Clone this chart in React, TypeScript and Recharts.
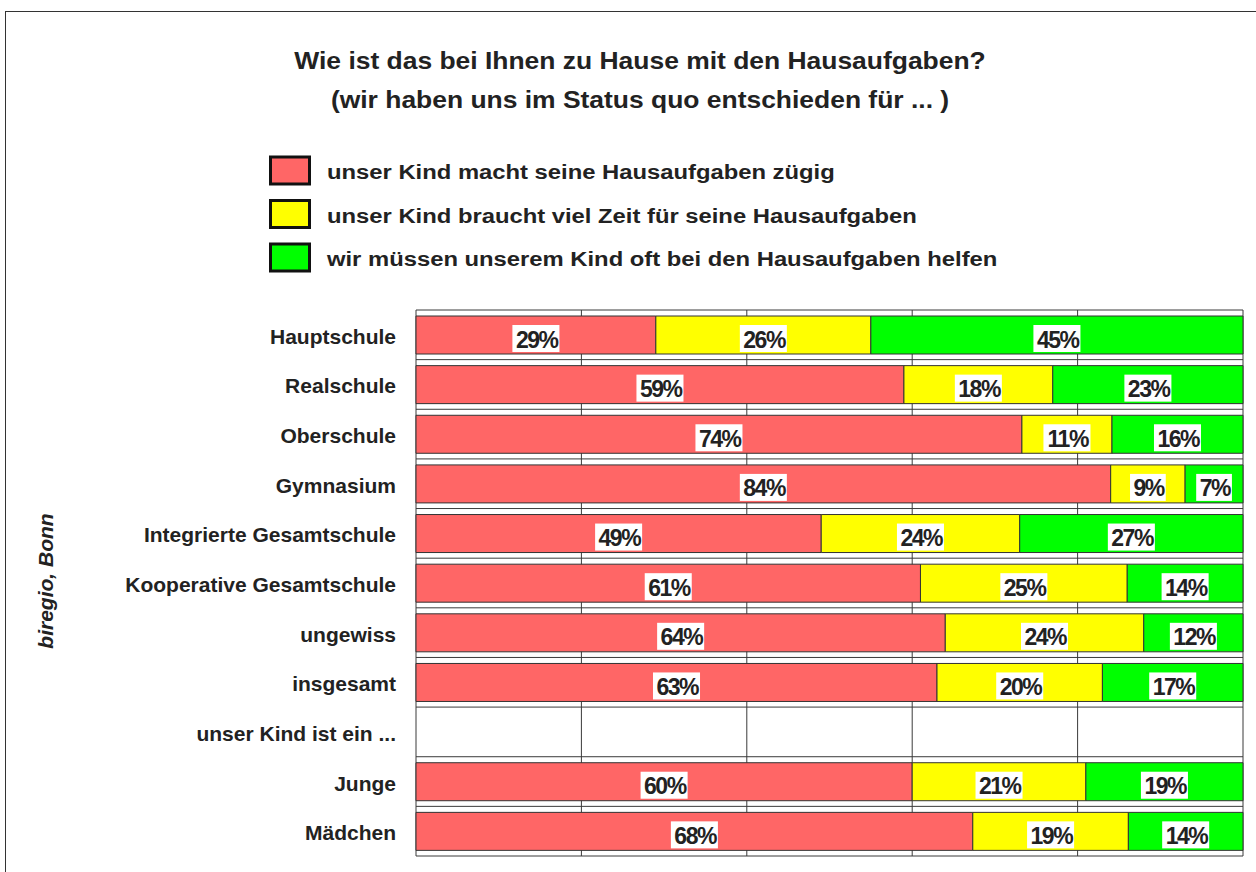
import React from 'react';
import { BarChart, Bar, XAxis, YAxis, CartesianGrid, LabelList } from 'recharts';

// ---- data ----
const categories = [
  'Hauptschule',
  'Realschule',
  'Oberschule',
  'Gymnasium',
  'Integrierte Gesamtschule',
  'Kooperative Gesamtschule',
  'ungewiss',
  'insgesamt',
  'unser Kind ist ein ...',
  'Junge',
  'Mädchen',
];
const zuegig = [29, 59, 74, 84, 49, 61, 64, 63, null, 60, 68];
const vielZeit = [26, 18, 11, 9, 24, 25, 24, 20, null, 21, 19];
const helfen = [45, 23, 16, 7, 27, 14, 12, 17, null, 19, 14];

const seriesKeys = ['zuegig', 'vielZeit', 'helfen'];
const seriesNames = [
  'unser Kind macht seine Hausaufgaben zügig',
  'unser Kind braucht viel Zeit für seine Hausaufgaben',
  'wir müssen unserem Kind oft bei den Hausaufgaben helfen',
];
const seriesColors = ['#FF6666', '#FFFF00', '#00FF00'];
const titleLines = [
  'Wie ist das bei Ihnen zu Hause mit den Hausaufgaben?',
  '(wir haben uns im Status quo entschieden für ... )',
];
const sourceText = 'biregio, Bonn';
const xTicks = [0, 0.2, 0.4, 0.6, 0.8, 1];

const data = categories.map((name, i) => ({
  name,
  zuegig: zuegig[i],
  vielZeit: vielZeit[i],
  helfen: helfen[i],
}));

const FONT = "'Liberation Sans', Arial, Helvetica, sans-serif";

const charW = (c: string) => (c === '%' ? 889 : 556);

const PctLabel = (props: any) => {
  const { x, y, width, height, value } = props;
  if (value == null || !width) return null;
  const txt = `${value}%`;
  const fs = 23;
  const ls = -1.5;
  const tw = txt.split('').reduce((s, c) => s + charW(c), 0) * fs / 1000 + ls * (txt.length - 1);
  const cx = Number(x) + Number(width) / 2;
  const cy = Number(y) + Number(height) / 2;
  return (
    <g>
      <rect x={cx - tw / 2 - 2} y={cy - 10} width={tw + 4} height={27} fill="#ffffff" />
      <text
        x={cx + 0.75}
        y={cy + 12.5}
        textAnchor="middle"
        fontSize={fs}
        fontWeight="bold"
        letterSpacing={ls}
        fill="#222"
        fontFamily={FONT}
      >
        {txt}
      </text>
    </g>
  );
};

const CatTick = (props: any) => {
  const { x, y, payload } = props;
  return (
    <text
      x={x}
      y={Number(y) + 9}
      textAnchor="end"
      fontSize={21}
      fontWeight="bold"
      fill="#222"
      fontFamily={FONT}
    >
      {payload.value}
    </text>
  );
};

export default function App() {
  return (
    <div
      style={{
        position: 'absolute',
        left: 0,
        top: 0,
        width: 1256,
        height: 872,
        overflow: 'hidden',
        background: '#fff',
        fontFamily: FONT,
      }}
    >
      <div
        style={{
          position: 'absolute',
          left: 5,
          top: 11,
          width: 1270,
          height: 880,
          border: '1.5px solid #333',
        }}
      />
      <div style={{ position: 'absolute', left: 0, top: 0 }}>
        <BarChart
          width={1256}
          height={872}
          data={data}
          layout="vertical"
          stackOffset="expand"
          margin={{ top: 310, right: 13, bottom: 16, left: 0 }}
        >
          <CartesianGrid
            stroke="#3a3a3a"
            strokeWidth={1}
            verticalCoordinatesGenerator={({ offset }: any) =>
              xTicks.map((t) => offset.left + t * offset.width)
            }
            horizontalCoordinatesGenerator={({ offset }: any) =>
              Array.from({ length: categories.length + 1 }, (_, i) => offset.top + (i * offset.height) / categories.length)
            }
          />
          <XAxis type="number" domain={[0, 1]} ticks={xTicks} hide />
          <YAxis
            type="category"
            dataKey="name"
            width={416}
            axisLine={false}
            tickLine={false}
            tickMargin={14}
            interval={0}
            tick={<CatTick />}
          />
          {seriesKeys.map((k, i) => (
            <Bar
              key={k}
              dataKey={k}
              name={seriesNames[i]}
              stackId="a"
              fill={seriesColors[i]}
              stroke="#333"
              strokeWidth={1}
              barSize={38}
              isAnimationActive={false}
            >
              <LabelList dataKey={k} content={PctLabel} />
            </Bar>
          ))}
        </BarChart>
      </div>
      <svg
        width={1256}
        height={872}
        style={{ position: 'absolute', left: 0, top: 0, pointerEvents: 'none' }}
        fontFamily={FONT}
      >
        <text transform="translate(640,69) scale(1.15,1)" textAnchor="middle" fontSize={23} fontWeight="bold" fill="#222">
          {titleLines[0]}
        </text>
        <text transform="translate(640,108) scale(1.15,1)" textAnchor="middle" fontSize={23} fontWeight="bold" fill="#222">
          {titleLines[1]}
        </text>
        {seriesNames.map((n, i) => (
          <g key={n}>
            <rect
              x={270.5}
              y={157 + i * 43.5}
              width={39}
              height={27}
              fill={seriesColors[i]}
              stroke="#111"
              strokeWidth={3}
            />
            <text
              transform={`translate(327,${179 + i * 43.5}) scale(1.15,1)`}
              fontSize={20.7}
              fontWeight="bold"
              fill="#222"
            >
              {n}
            </text>
          </g>
        ))}
        <text
          transform="translate(53,581) rotate(-90)"
          textAnchor="middle"
          fontSize={21}
          fontWeight="bold"
          fontStyle="italic"
          fill="#222"
        >
          {sourceText}
        </text>
      </svg>
    </div>
  );
}
